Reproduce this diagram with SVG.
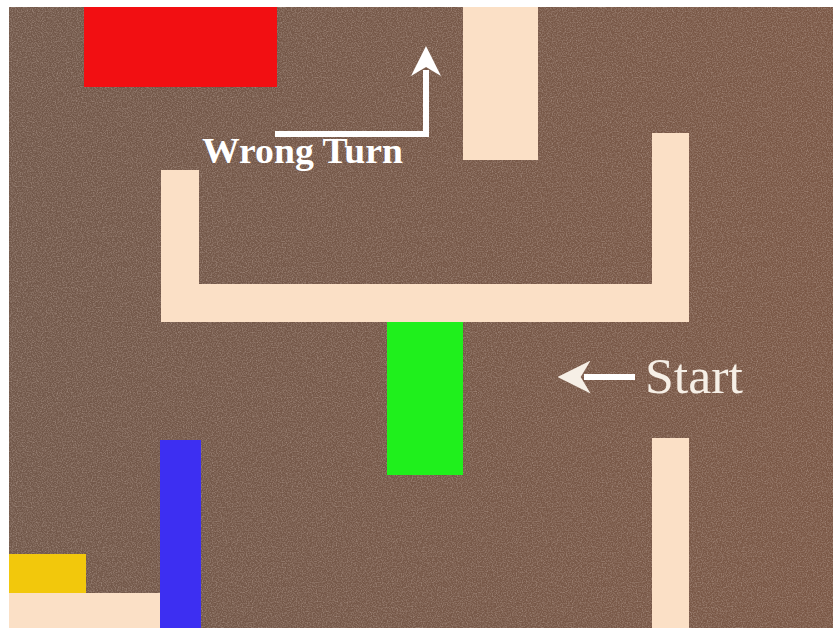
<svg xmlns="http://www.w3.org/2000/svg" width="833" height="628" viewBox="0 0 833 628">
  <defs>
    <filter id="grain" x="0" y="0" width="100%" height="100%">
      <feTurbulence type="fractalNoise" baseFrequency="0.8" numOctaves="2" seed="3" result="n"/>
      <feColorMatrix type="matrix" values="0 0 0 0 0.62  0 0 0 0 0.5  0 0 0 0 0.44  0 0 0 0.9 -0.35" in="n"/>
    </filter>
    <linearGradient id="bg" x1="0" y1="0" x2="1" y2="0">
      <stop offset="0" stop-color="#72584a"/>
      <stop offset="1" stop-color="#7b5846"/>
    </linearGradient>
    <marker id="head" viewBox="0 0 10 10" refX="2" refY="5" markerWidth="5" markerHeight="5" orient="auto" markerUnits="strokeWidth">
      <path d="M0,0 L10,5 L0,10 L3,5 Z" fill="#ffffff"/>
    </marker>
    <marker id="headS" viewBox="0 0 10 10" refX="2" refY="5" markerWidth="5.5" markerHeight="5.5" orient="auto" markerUnits="strokeWidth">
      <path d="M0,0 L10,5 L0,10 L3,5 Z" fill="#f6efe6"/>
    </marker>
  </defs>
  <style>
    .wall { fill: #fbe0c6; }
    .arrow { fill: none; stroke: #ffffff; stroke-width: 6; }
    .lbl { font-family: "Liberation Serif", "Times New Roman", serif; }
  </style>
  <rect x="0" y="0" width="833" height="628" fill="#ffffff"/>
  <g id="floor">
    <rect x="9" y="7" width="824" height="621" fill="url(#bg)"/>
    <rect x="9" y="7" width="824" height="621" filter="url(#grain)"/>
  </g>
  <g id="red-block"><rect x="84" y="7" width="193" height="80" fill="#f20f12"/></g>
  <g id="wall-top"><rect class="wall" x="463" y="7" width="75" height="153"/></g>
  <g id="wall-u">
    <path class="wall" d="M161,170 H199 V284 H652 V133 H689 V322 H161 Z"/>
  </g>
  <g id="green-block"><rect x="387" y="322" width="76" height="153" fill="#1ff01c"/></g>
  <g id="wall-right-bottom"><rect class="wall" x="652" y="438" width="37" height="190"/></g>
  <g id="blue-block"><rect x="160" y="440" width="41" height="188" fill="#3d2ff2"/></g>
  <g id="yellow-block"><rect x="9" y="554" width="77" height="39" fill="#f2c80c"/></g>
  <g id="wall-bottom-left"><rect class="wall" x="9" y="593" width="151" height="35"/></g>
  <g id="connectors">
    <path class="arrow" d="M275,134 H426 V70" marker-end="url(#head)"/>
    <path class="arrow" d="M635,377 H584" stroke="#f6efe6" marker-end="url(#headS)"/>
  </g>
  <g id="labels">
    <text class="lbl" x="202" y="163" font-size="36" font-weight="bold" fill="#ffffff" textLength="201" lengthAdjust="spacingAndGlyphs">Wrong Turn</text>
    <text class="lbl" x="645" y="393" font-size="50" fill="#f6efe6" textLength="98" lengthAdjust="spacingAndGlyphs">Start</text>
  </g>
</svg>
